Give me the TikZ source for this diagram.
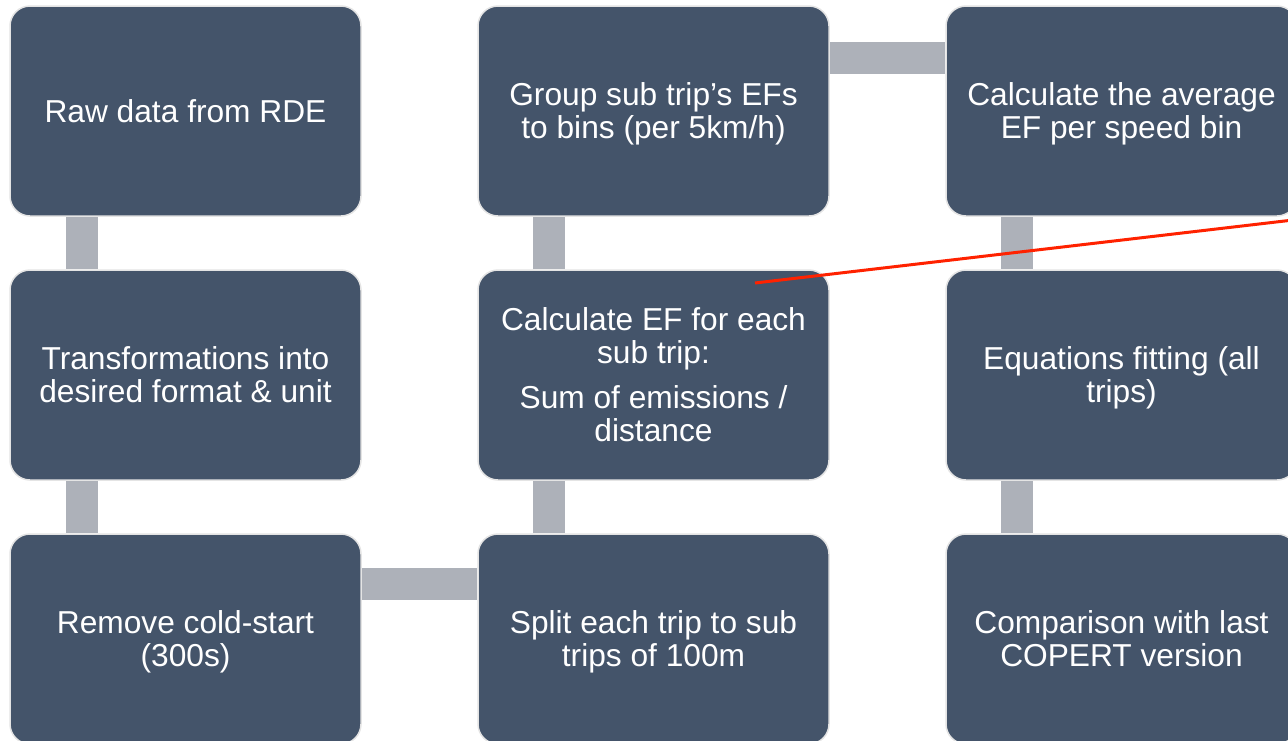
\documentclass[tikz,border=0pt]{standalone}
\usepackage{fontspec}
\setmainfont{Liberation Sans}
\usetikzlibrary{backgrounds}
\definecolor{boxfill}{HTML}{44546A}
\definecolor{boxline}{HTML}{E4E4E4}
\definecolor{barcol}{HTML}{ADB1B9}
\definecolor{redline}{HTML}{FF2200}
\tikzset{
  stepbox/.style={draw=boxline, line width=1.5pt, fill=boxfill, rounded corners=20pt,
    minimum width=351pt, minimum height=210pt, inner sep=0pt, align=center,
    text depth=0pt, text=white, font=\fontsize{31.7}{33}\selectfont},
  barline/.style={draw=barcol, line width=32pt, line cap=butt},
  redmark/.style={draw=redline, line width=3pt}
}
\begin{document}
\begin{tikzpicture}[x=1pt,y=-1pt]
\useasboundingbox (0,0) rectangle (1288,740);
\clip (0,0) rectangle (1288,740);
% boxes
\node[stepbox] (a1) at (185.5,111) {Raw data from RDE};
\node[stepbox] (a2) at (185.5,375) {Transformations into\\desired format \& unit};
\node[stepbox] (a3) at (185.5,639) {Remove cold-start\\(300s)};
\node[stepbox] (b1) at (653.5,111) {Group sub trip’s EFs\\to bins (per 5km/h)};
\node[stepbox] (b2) at (653.5,375) {Calculate EF for each\\sub trip:\\[12pt]Sum of emissions /\\distance};
\node[stepbox] (b3) at (653.5,639) {Split each trip to sub\\trips of 100m};
\node[stepbox] (c1) at (1121.5,111) {Calculate the average\\EF per speed bin};
\node[stepbox] (c2) at (1121.5,375) {Equations fitting (all\\trips)};
\node[stepbox] (c3) at (1121.5,639) {Comparison with last\\COPERT version};
% connectors
\begin{pgfonlayer}{background}
\draw[barline] ([xshift=-103.5pt]a1.south) -- ([xshift=-103.5pt]a2.north);
\draw[barline] ([xshift=-103.5pt]a2.south) -- ([xshift=-103.5pt]a3.north);
\draw[barline] ([yshift=55pt]a3.east) -- ([yshift=55pt]b3.west);
\draw[barline] ([xshift=-104.5pt]b3.north) -- ([xshift=-104.5pt]b2.south);
\draw[barline] ([xshift=-104.5pt]b2.north) -- ([xshift=-104.5pt]b1.south);
\draw[barline] ([yshift=53pt]b1.east) -- ([yshift=53pt]c1.west);
\draw[barline] ([xshift=-104.5pt]c1.south) -- ([xshift=-104.5pt]c2.north);
\draw[barline] ([xshift=-104.5pt]c2.south) -- ([xshift=-104.5pt]c3.north);
\end{pgfonlayer}
% red line
\coordinate (rs) at (755,283);
\coordinate (re) at (1300,219.2);
\draw[redmark] (rs) -- (re);
\end{tikzpicture}
\end{document}
